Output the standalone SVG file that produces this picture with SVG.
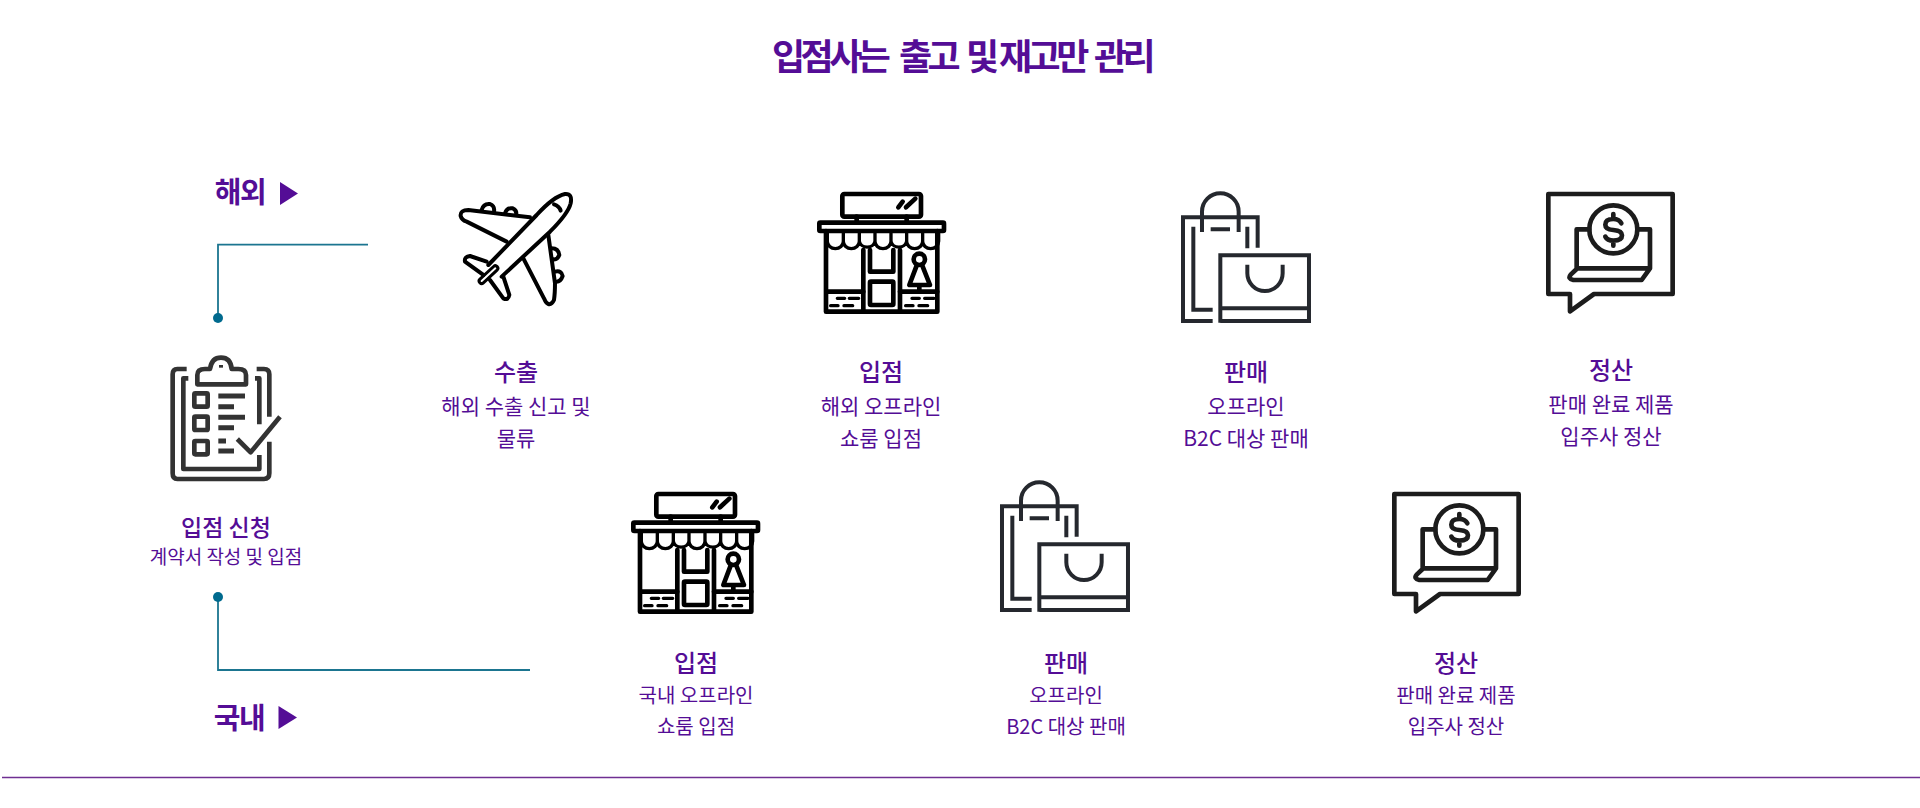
<svg xmlns="http://www.w3.org/2000/svg" width="1920" height="808" viewBox="0 0 1920 808">
<style>
text{font-family:"Noto Sans CJK KR","Noto Sans",sans-serif;fill:#540d96;text-anchor:middle}
.t{font-size:36px;font-weight:700;letter-spacing:-4.500px;text-anchor:start}
.h{font-size:29px;font-weight:700;letter-spacing:-1.500px}
.a{font-size:24px;font-weight:500}
.a2{font-size:23px;font-weight:500}
.b{font-size:21px;font-weight:400}
.b2{font-size:20px;font-weight:400}
.c{font-size:19px;font-weight:400}
.ic{fill:none;stroke-linecap:round;stroke-linejoin:round}
.st{stroke:#000;stroke-width:14}
.bg{stroke:#25282e;stroke-width:12;stroke-linecap:butt;stroke-linejoin:miter}
.pay{stroke:#1c1c1c;stroke-width:14}
.pl{stroke:#000;stroke-width:12}
.cl{stroke:#333;stroke-width:14;stroke-linecap:butt}
.ln{fill:none;stroke:#1b7590;stroke-width:1.800}
</style>
<defs>
<g id="store" class="ic st">
<rect x="187" y="72" width="236" height="68" rx="6"/>
<path d="M355,112L368,95M378,112L406,86M230,140v15M380,140v15"/>
<rect x="118" y="158" width="374" height="25" rx="3"/>
<path d="M138,183V425H472V183"/>
<path d="M142,190v24a24,22 0 0 0 48,0v-24v24a24,22 0 0 0 48,0v-24v24a24,22 0 0 0 47,0v-24v24a24,22 0 0 0 48,0v-24v24a24,22 0 0 0 47,0v-24v24a24,22 0 0 0 48,0v-24v24a24,22 0 0 0 48,0v-24" stroke-width="10"/>
<path d="M250,240V425M360,240V425M270,240v65h70v-65"/>
<rect x="270" y="335" width="70" height="70" rx="3"/>
<path d="M140,365H250M360,365H472"/>
<path d="M172,385h22M208,385h28M152,407h22M192,407h26M396,385h22M434,385h28M377,407h22M417,407h26" stroke-width="10"/>
<circle cx="418" cy="268" r="17"/>
<path d="M410,287L388,345H450L427,287M418,345v15"/>
</g>
<g id="bag" class="ic bg">
<path d="M158,453H69V142H293V233"/>
<path d="M158,419H100V170"/>
<path d="M126,186V125a55,55 0 0 1 110,0V186"/>
<path d="M152,178H210M262,170V235"/>
<path d="M181,458V256H447V453H181M181,415H447"/>
<path d="M262,284V310a53,53 0 0 0 106,0V284"/>
</g>
<g id="pay" class="ic pay">
<path d="M55,72H428V372H192L120,424V372H55Z"/>
<circle cx="250" cy="178" r="72"/>
<path d="M178,178H140V295M322,178H360V295M140,295H360L335,330H130Q112,326 122,314L140,297"/>
<path d="M274,160Q268,147 250,147Q226,147 226,164Q226,178 250,180Q276,182 276,196Q276,212 250,212Q232,212 226,200M250,132v14M250,213v14"/>
</g>
</defs>

<text class="t" y="70"><tspan x="772">입점사는</tspan><tspan x="899">출고</tspan><tspan x="966">및</tspan><tspan x="999">재고만</tspan><tspan x="1094">관리</tspan></text>

<g id="connectors">
<path class="ln" d="M368,244.700H218V318"/>
<circle cx="218" cy="318" r="5" fill="#006a8e"/>
<path class="ln" d="M218,597V670H530"/>
<circle cx="218" cy="597" r="5" fill="#006a8e"/>
<path d="M2,777.500H1920" stroke="#6f2f92" stroke-width="1.400" fill="none"/>
</g>

<g id="label-overseas">
<text class="h" x="240" y="203">해외</text>
<path d="M280,182L298,193.500L280,205Z" fill="#540d96"/>
</g>
<g id="label-domestic">
<text class="h" x="239" y="729">국내</text>
<path d="M278.500,706L297,717.500L278.500,729Z" fill="#540d96"/>
</g>

<g id="node-apply">
<g transform="translate(160,345) scale(.3333)" class="ic cl">
<path d="M80,72H52Q38,72 38,88V385Q38,402 52,402H312Q328,402 328,385V290M290,72H312Q328,72 328,88V215"/>
<path d="M85,100H70V372H298V330M285,100H298V238"/>
<path d="M112,118V90Q112,72 135,72H150Q155,38 183,38Q212,38 215,72H235Q258,72 258,90V118Z"/>
<rect x="103" y="145" width="40" height="40" rx="3"/>
<rect x="103" y="215" width="40" height="40" rx="3"/>
<rect x="103" y="288" width="40" height="40" rx="3"/>
<path d="M175,153H255M175,185H222M175,217H255M175,248H222M175,288H198M175,318H222" stroke-width="15"/>
<path d="M232,282L272,322L360,215" stroke-width="14"/>
<path d="M183,60v8" stroke-width="12"/>
</g>
<text class="a2" x="226" y="536">입점 신청</text>
<text class="c" x="226" y="564">계약서 작성 및 입점</text>
</g>

<g id="node-export">
<g transform="translate(440,180) scale(.3333)" class="ic pl">
<path d="M145,255L290,105Q340,50 375,42Q398,40 392,70Q385,100 330,155L185,290"/>
<path d="M125,303L166,265" stroke-width="24"/>
<path d="M125,303L166,265" stroke="#fff" stroke-width="6"/>
<path d="M270,112L85,90Q60,90 62,108Q65,120 80,125L200,185"/>
<path d="M125,90Q130,70 150,72Q165,78 162,95M195,100Q200,82 218,85Q232,92 228,105"/>
<path d="M325,165L345,310Q345,340 342,360Q335,375 325,372Q318,370 312,355L250,235"/>
<path d="M335,205Q355,205 358,225Q352,240 340,238M345,275Q365,270 368,288Q362,305 350,305"/>
<path d="M140,245L90,228Q72,230 75,245L130,285M150,300L190,355Q205,362 208,345L190,290"/>
<path d="M342,73Q358,78 362,92"/>
</g>
<text class="a" x="516" y="381">수출</text>
<text class="b" x="516" y="414">해외 수출 신고 및</text>
<text class="b" x="516" y="446">물류</text>
</g>

<g id="node-ov-store">
<use href="#store" transform="translate(780,170) scale(.3333)"/>
<text class="a" x="881" y="381">입점</text>
<text class="b" x="881" y="414">해외 오프라인</text>
<text class="b" x="881" y="446">쇼룸 입점</text>
</g>
<g id="node-ov-sale">
<use href="#bag" transform="translate(1160,170) scale(.3333)"/>
<text class="a" x="1246" y="381">판매</text>
<text class="b" x="1246" y="414">오프라인</text>
<text class="b" x="1246" y="446">B2C 대상 판매</text>
</g>
<g id="node-ov-settle">
<use href="#pay" transform="translate(1530,170) scale(.3333)"/>
<text class="a" x="1611" y="379">정산</text>
<text class="b" x="1611" y="412">판매 완료 제품</text>
<text class="b" x="1611" y="444">입주사 정산</text>
</g>

<g id="node-dom-store">
<use href="#store" transform="translate(594,470) scale(.3333)"/>
<text class="a" x="696" y="672">입점</text>
<text class="b2" x="696" y="703">국내 오프라인</text>
<text class="b2" x="696" y="734">쇼룸 입점</text>
</g>
<g id="node-dom-sale">
<use href="#bag" transform="translate(979,459) scale(.3333)"/>
<text class="a" x="1066" y="672">판매</text>
<text class="b2" x="1066" y="703">오프라인</text>
<text class="b2" x="1066" y="734">B2C 대상 판매</text>
</g>
<g id="node-dom-settle">
<use href="#pay" transform="translate(1376,470) scale(.3333)"/>
<text class="a" x="1456" y="672">정산</text>
<text class="b2" x="1456" y="703">판매 완료 제품</text>
<text class="b2" x="1456" y="734">입주사 정산</text>
</g>
</svg>
